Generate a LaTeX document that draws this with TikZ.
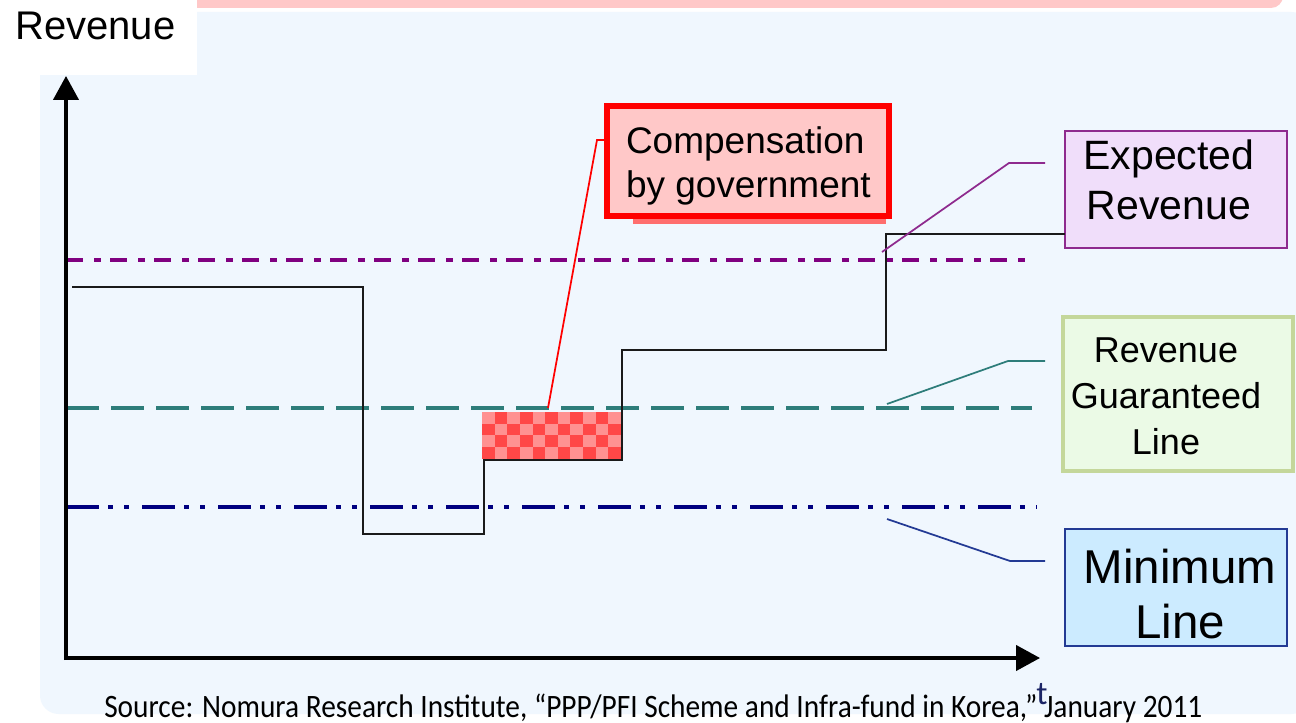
\documentclass[tikz,border=0pt]{standalone}
\usepackage{fontspec}
\setmainfont{Liberation Sans}
\newfontfamily\srcfont{Carlito}
\usetikzlibrary{arrows.meta}

\definecolor{panelblue}{HTML}{F0F7FE}
\definecolor{barpink}{HTML}{FFC8C8}
\definecolor{exppurple}{HTML}{800080}
\definecolor{expborder}{HTML}{8E2A8E}
\definecolor{expfill}{HTML}{F0DEFA}
\definecolor{guarteal}{HTML}{2E7D7A}
\definecolor{guarborder}{HTML}{C4D79B}
\definecolor{guarfill}{HTML}{EBFAE6}
\definecolor{minnavy}{HTML}{000080}
\definecolor{minborder}{HTML}{233A94}
\definecolor{minfill}{HTML}{CCEBFF}
\definecolor{compred}{HTML}{FF0000}
\definecolor{compfill}{HTML}{FFC8C8}
\definecolor{compshadow}{HTML}{FF6E6E}
\definecolor{chkdark}{HTML}{FF4747}
\definecolor{chklight}{HTML}{FF9191}
\definecolor{stepgray}{HTML}{1A1A1A}
\definecolor{tnavy}{HTML}{1C2566}

\begin{document}
\begin{tikzpicture}[x=0.75pt,y=-0.75pt,
  axisline/.style={line width=2.4pt, black, -{Triangle[length=18pt,width=19pt]}},
  stepline/.style={line width=1.5pt, stepgray},
  expline/.style={line width=3.4pt, exppurple,
     dash pattern=on 12.75pt off 8.25pt on 5.25pt off 6.75pt},
  guarline/.style={line width=2.8pt, guarteal, dash pattern=on 24.75pt off 9pt},
  minline/.style={line width=3.2pt, minnavy,
     dash pattern=on 24.75pt off 6.75pt on 3.75pt off 8.25pt on 3.75pt off 9.75pt},
  leader/.style={line width=1.3pt},
  infobox/.style={draw, rectangle, inner sep=0pt, outer sep=0pt},
  boxtext/.style={inner sep=0pt, outer sep=0pt, anchor=north}
]
\useasboundingbox (0,0) rectangle (1296,723);
\fill[white] (0,0) rectangle (1296,723);

% backdrop panels
\fill[panelblue, rounded corners=14pt] (40,12) rectangle (1310,714);
\fill[barpink, rounded corners=9pt] (67,-20) rectangle (1283,8);
\fill[white] (0,0) rectangle (197,75);

% axis label
\node[inner sep=0pt, anchor=north west, font=\fontsize{30pt}{36pt}\selectfont]
  (ylabel) at (15,12) {Revenue};

% compensation area (checkered)
\fill[chklight] (482,412) rectangle (621,459);
\foreach \i in {0,...,10}{
  \foreach \j in {0,...,3}{
    \ifodd\numexpr\i+\j\relax
      \fill[chkdark] ({482+\i*12.64},{412+\j*11.75}) rectangle ++(12.64,11.75);
    \fi
  }
}

% reference levels
\coordinate (origin) at (66,658);
\draw[expline] (66,260) -- (1033,260);
\draw[guarline] (66,408) -- (1032,408);
\draw[minline] (66,507) -- (1037,507);

% axes
\draw[axisline] (66,660) -- (66,76);
\draw[axisline] (64,658) -- (1040,658);

% label boxes
\fill[compshadow] (633,200) rectangle (886,224);
\node[infobox, draw=compred, line width=4.2pt, fill=compfill,
      minimum width=211.5pt, minimum height=82.5pt] (comp) at (748,161) {};
\node[infobox, draw=expborder, line width=1.8pt, fill=expfill,
      minimum width=166.5pt, minimum height=87.75pt] (exp) at (1176,189.5) {};
\node[infobox, draw=guarborder, line width=3.4pt, fill=guarfill,
      minimum width=172.5pt, minimum height=115.5pt] (guar) at (1178,394) {};
\node[infobox, draw=minborder, line width=1.8pt, fill=minfill,
      minimum width=166.5pt, minimum height=87.75pt] (min) at (1176,587.5) {};

% revenue path over time
\coordinate (s0) at (72,287);
\draw[stepline] (s0) -| (363,534) -| (484,460) -| (622,350) -| (886,234)
  -- (886,234 -| exp.west);

% leader lines
\coordinate (compA) at (548,408);
\coordinate (compK) at (597,140);
\draw[leader, compred] (compA) -- (compK) -- (compK -| comp.west);

\coordinate (expA) at (882,252);
\coordinate (expK) at (1009,163);
\coordinate (expE) at (1045,163);
\draw[leader, expborder] (expA) -- (expK) -- (expE);

\coordinate (guarA) at (887,404);
\coordinate (guarK) at (1008,361);
\coordinate (guarE) at (1045,361);
\draw[leader, guarteal] (guarA) -- (guarK) -- (guarE);

\coordinate (minA) at (887,519);
\coordinate (minK) at (1010,561);
\coordinate (minE) at (1045,561);
\draw[leader, minborder] (minA) -- (minK) -- (minE);

% box texts
\node[inner sep=0pt, outer sep=0pt, anchor=north west, align=left,
      font=\fontsize{27.75pt}{33pt}\selectfont] (compT) at (626,127)
  {Compensation\\by government};
\node[boxtext, align=center, font=\fontsize{30.75pt}{37.5pt}\selectfont]
  (expT) at (1169,140) {Expected\\Revenue};
\node[boxtext, align=center, font=\fontsize{27pt}{34.5pt}\selectfont]
  (guarT) at (1166,338) {Revenue\\Guaranteed\\Line};
\node[boxtext, align=center, font=\fontsize{35.6pt}{41.25pt}\selectfont]
  (minT) at (1180,549) {Minimum\\Line};

% time label and source
\node[inner sep=0pt, anchor=base west, text=tnavy, font=\srcfont\fontsize{25pt}{30pt}\selectfont]
  (tlabel) at (1036,704) {t};
\node[inner sep=0pt, anchor=base west] (src) at (104,717)
  {\resizebox{823.5pt}{\height}{\srcfont\fontsize{24.5pt}{30pt}\selectfont Source: Nomura Research Institute, “PPP/PFI Scheme and Infra-fund in Korea,” January 2011}};
\end{tikzpicture}
\end{document}
